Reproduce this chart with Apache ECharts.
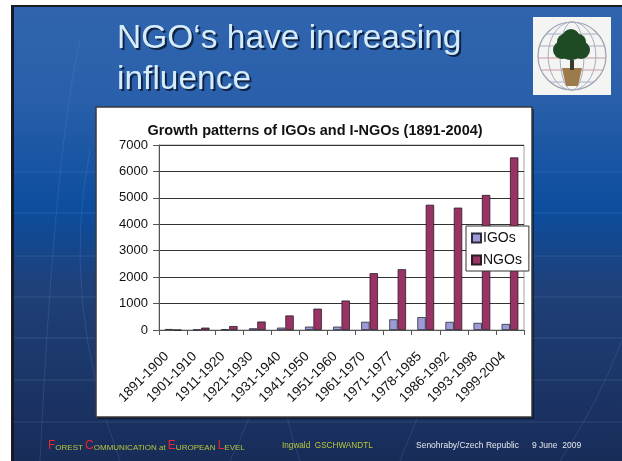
<!DOCTYPE html>
<html>
<head>
<meta charset="utf-8">
<script src="https://cdn.jsdelivr.net/npm/echarts@6/dist/echarts.min.js"></script>
<style>
  html, body { margin: 0; padding: 0; background: #ffffff; }
  #chart { width: 622px; height: 461px; }
</style>
</head>
<body>
<div id="chart"></div>
<script>
// Periods and counts of international organisations
const categories = ['1891-1900', '1901-1910', '1911-1920', '1921-1930', '1931-1940', '1941-1950',
  '1951-1960', '1961-1970', '1971-1977', '1978-1985', '1986-1992', '1993-1998', '1999-2004'];
const igos = [37, 20, 28, 65, 90, 128, 128, 310, 405, 487, 308, 270, 230];
const ngos = [0, 90, 150, 320, 550, 808, 1115, 2150, 2300, 4740, 4630, 5110, 6530];
const yTicks = [0, 1000, 2000, 3000, 4000, 5000, 6000, 7000];

const chartTitle = 'Growth patterns of IGOs and I-NGOs (1891-2004)';
const slideTitle = ['NGO\u2018s have increasing', 'influence'];

const FONT = '"Liberation Sans", Arial, sans-serif';

const chart = echarts.init(document.getElementById('chart'), null, { renderer: 'canvas' });

// Slide background, decorative lines and panel
const bg = [
  { type: 'rect', z: -10, shape: { x: 0, y: 0, width: 622, height: 461 }, style: { fill: '#ffffff' } },
  { type: 'rect', z: -9, shape: { x: 11, y: 5, width: 611, height: 456 },
    style: { fill: new echarts.graphic.LinearGradient(0, 0, 0, 1, [
      { offset: 0, color: '#3064ae' },
      { offset: 0.2, color: '#2a60ab' },
      { offset: 0.45, color: '#0c4d9d' },
      { offset: 0.62, color: '#1f4079' },
      { offset: 0.85, color: '#1b3465' },
      { offset: 1, color: '#182c58' }
    ]) } },
  { type: 'rect', z: -8, shape: { x: 11, y: 5, width: 3, height: 456 }, style: { fill: '#1a1a22' } },
  { type: 'rect', z: -8, shape: { x: 11, y: 5, width: 611, height: 2 }, style: { fill: '#1a1a22' } }
];
[172, 213, 256, 297, 338, 380, 422].forEach(function (y) {
  bg.push({ type: 'line', z: -7, shape: { x1: 14, y1: y, x2: 622, y2: y },
    style: { stroke: 'rgba(120,160,220,0.2)', lineWidth: 1 } });
});
// faint arcs
[
  [40, 461, 55, 150, 80, 40],
  [120, 461, 60, 300, 90, 150],
  [300, 461, 270, 380, 290, 300],
  [400, 461, 440, 360, 470, 300],
  [560, 461, 600, 400, 622, 340],
  [230, 461, 250, 420, 262, 380]
].forEach(function (a) {
  bg.push({ type: 'bezierCurve', z: -7,
    shape: { x1: a[0], y1: a[1], x2: a[4], y2: a[5], cpx1: a[2], cpy1: a[3] },
    style: { stroke: 'rgba(110,150,215,0.2)', lineWidth: 1, fill: null } });
});

// chart panel
bg.push({ type: 'rect', z: -6, shape: { x: 98, y: 109, width: 436, height: 310 },
  style: { fill: 'rgba(0,0,0,0.45)' } });
bg.push({ type: 'rect', z: -5, shape: { x: 96, y: 107, width: 436, height: 310 },
  style: { fill: '#ffffff', stroke: '#3a3a3a', lineWidth: 1.5 } });

// slide title with shadow
slideTitle.forEach(function (t, i) {
  const y = 22 + i * 41;
  bg.push({ type: 'text', z: 5, x: 119, y: y + 2,
    style: { text: t, font: '33.5px ' + FONT, fill: '#0f2244', textVerticalAlign: 'top' } });
  bg.push({ type: 'text', z: 6, x: 117, y: y,
    style: { text: t, font: '33.5px ' + FONT, fill: '#d4ecfb', textVerticalAlign: 'top' } });
});

// logo
bg.push({ type: 'rect', z: 5, shape: { x: 533, y: 17, width: 78, height: 78 }, style: { fill: '#f4f4f2' } });
bg.push({ type: 'circle', z: 6, shape: { cx: 572, cy: 56, r: 34 }, style: { fill: null, stroke: '#9aa0b4', lineWidth: 1.2 } });
[0.35, 0.7].forEach(function (k) {
  bg.push({ type: 'ellipse', z: 6, shape: { cx: 572, cy: 56, rx: 34 * k, ry: 34 }, style: { fill: null, stroke: '#a6acc0', lineWidth: 1 } });
});
[-22, -10, 2, 14, 26].forEach(function (dy) {
  const w = Math.sqrt(34 * 34 - dy * dy);
  bg.push({ type: 'line', z: 6, shape: { x1: 572 - w, y1: 56 + dy, x2: 572 + w, y2: 56 + dy },
    style: { stroke: dy === 2 || dy === 14 ? '#c49aa6' : '#a8aec2', lineWidth: 1 } });
});
bg.push({ type: 'polygon', z: 7, shape: { points: [[562, 68], [582, 68], [578, 86], [566, 86]] }, style: { fill: '#9c7a4a' } });
bg.push({ type: 'rect', z: 7, shape: { x: 570, y: 60, width: 4, height: 10 }, style: { fill: '#3a3a2a' } });
[[571, 46, 14], [562, 50, 9], [581, 50, 9], [571, 38, 9], [565, 42, 8], [578, 42, 8]].forEach(function (c) {
  bg.push({ type: 'circle', z: 8, shape: { cx: c[0], cy: c[1], r: c[2] }, style: { fill: '#1e4a24' } });
});

// footer
bg.push({ type: 'text', z: 5, x: 48, y: 446,
  style: {
    text: '{r|F}{g|OREST }{r|C}{g|OMMUNICATION at }{r|E}{g|UROPEAN }{r|L}{g|EVEL}',
    textVerticalAlign: 'middle',
    rich: {
      r: { fill: '#e8262c', font: '12px ' + FONT, verticalAlign: 'bottom' },
      g: { fill: '#b9c63c', font: '8px ' + FONT, verticalAlign: 'bottom' }
    }
  } });
bg.push({ type: 'text', z: 5, x: 282, y: 446,
  style: { text: 'Ingwald  GSCHWANDTL', font: '8.2px ' + FONT, fill: '#b9c63c', textVerticalAlign: 'middle' } });
bg.push({ type: 'text', z: 5, x: 416, y: 446,
  style: { text: 'Senohraby/Czech Republic', font: '8.5px ' + FONT, fill: '#e6e8ee', textVerticalAlign: 'middle' } });
bg.push({ type: 'text', z: 5, x: 532, y: 446,
  style: { text: '9 June  2009', font: '8.5px ' + FONT, fill: '#e6e8ee', textVerticalAlign: 'middle' } });

chart.setOption({
  animation: false,
  graphic: { elements: bg },
  title: {
    text: chartTitle,
    left: 310, top: 118, textAlign: 'center',
    textStyle: { fontFamily: FONT, fontSize: 14.5, fontWeight: 'bold', color: '#111' }
  },
  legend: {
    orient: 'vertical',
    left: 466, top: 226,
    itemWidth: 9, itemHeight: 9, itemGap: 8,
    padding: [5, 7, 4, 5],
    backgroundColor: '#ffffff',
    borderColor: '#333', borderWidth: 1,
    borderRadius: 0,
    icon: 'rect',
    textStyle: { fontFamily: FONT, fontSize: 14, color: '#111', padding: [0, 0, 0, -3] },
    data: ['IGOs', 'NGOs']
  },
  grid: {
    left: 159, right: 98, top: 145, bottom: 131,
    show: true, borderColor: '#a0a0a0', borderWidth: 1, backgroundColor: 'transparent'
  },
  xAxis: {
    type: 'category',
    data: categories,
    axisLine: { lineStyle: { color: '#555', width: 1 } },
    axisTick: { show: true, length: 5, lineStyle: { color: '#555' } },
    axisLabel: { rotate: 45, fontFamily: FONT, fontSize: 13.5, color: '#111', margin: 18,
      padding: [0, 9, 0, 0], interval: 0 }
  },
  yAxis: {
    type: 'value',
    min: 0, max: 7000, interval: 1000,
    axisLine: { show: true, lineStyle: { color: '#555' } },
    axisTick: { show: true, length: 6, lineStyle: { color: '#555' } },
    splitLine: { lineStyle: { color: '#333', width: 1 } },
    axisLabel: {
      fontFamily: FONT, fontSize: 13, color: '#111', margin: 11,
      formatter: function (v) { return yTicks.indexOf(v) >= 0 ? String(v) : ''; }
    }
  },
  series: [
    {
      name: 'IGOs', type: 'bar', data: igos,
      barWidth: 8.4, barGap: '0%',
      itemStyle: { color: '#9d9ad8', borderColor: '#2a2a3a', borderWidth: 0.8 }
    },
    {
      name: 'NGOs', type: 'bar', data: ngos,
      barWidth: 8.4,
      itemStyle: { color: '#993366', borderColor: '#2a1a22', borderWidth: 0.8 }
    }
  ]
});
</script>
</body>
</html>
